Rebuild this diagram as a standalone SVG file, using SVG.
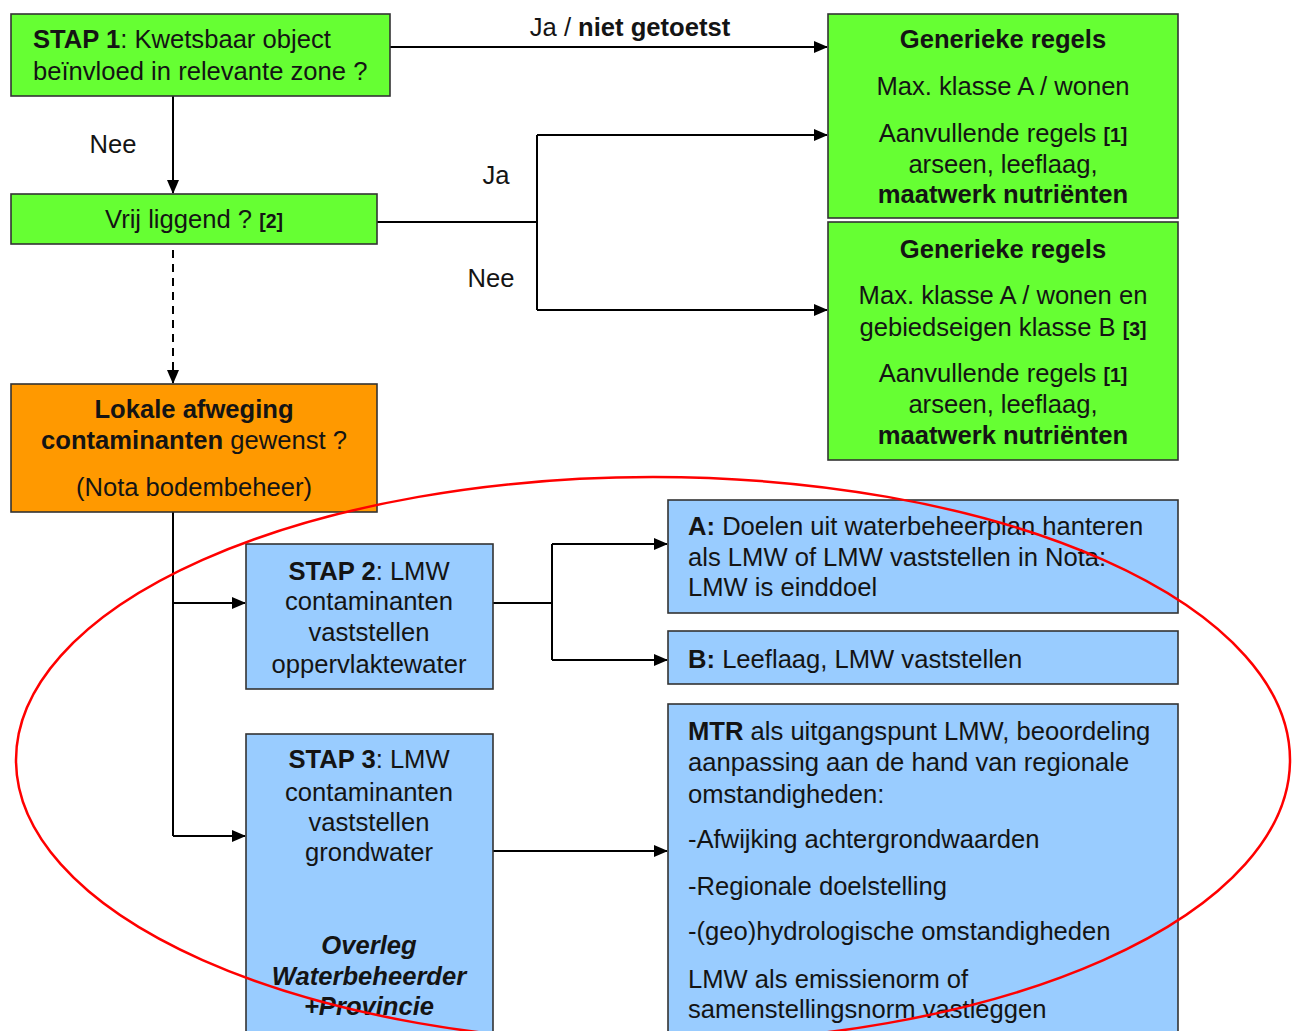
<svg xmlns="http://www.w3.org/2000/svg" width="1296" height="1031" viewBox="0 0 1296 1031">
<defs>
<marker id="ah" markerUnits="userSpaceOnUse" markerWidth="14" markerHeight="12" refX="13" refY="6" orient="auto">
<path d="M0,0 L14,6 L0,12 z" fill="#000"/>
</marker>
<style>
.box{stroke:#333;stroke-width:1.6}
.g{fill:#66ff33}
.o{fill:#ff9900}
.b{fill:#99ccff}
text{font-family:"Liberation Sans",Arial,sans-serif;font-size:25.6px;fill:#141414}
.c{text-anchor:middle}
.bd{font-weight:bold}
.sm{font-size:19.5px;font-weight:bold}
.bi{font-weight:bold;font-style:italic}
.con{stroke:#000;stroke-width:2;fill:none}
.arr{marker-end:url(#ah)}
</style>
</defs>
<rect width="1296" height="1031" fill="#fff"/>

<g id="connectors">
<path class="con arr" d="M390,47 H827"/>
<path class="con arr" d="M173,96 V193"/>
<path class="con" d="M377,222 H537 M537,135 V310"/>
<path class="con arr" d="M537,135 H827"/>
<path class="con arr" d="M537,310 H827"/>
<path class="con arr" d="M173,250 V383" stroke-dasharray="8,6"/>
<path class="con" d="M173,512 V836"/>
<path class="con arr" d="M173,603 H245"/>
<path class="con arr" d="M173,836 H245"/>
<path class="con" d="M493,603 H552 M552,544 V660"/>
<path class="con arr" d="M552,544 H667"/>
<path class="con arr" d="M552,660 H667"/>
<path class="con arr" d="M493,851 H667"/>
<text x="630" y="36" class="c">Ja / <tspan class="bd">niet getoetst</tspan></text>
<text x="113" y="153" class="c">Nee</text>
<text x="496" y="184" class="c">Ja</text>
<text x="491" y="287" class="c">Nee</text>
</g>

<g id="stap1">
<rect class="box g" x="11" y="14" width="379" height="82"/>
<text x="33" y="48"><tspan class="bd">STAP 1</tspan>: Kwetsbaar object</text>
<text x="33" y="80">beïnvloed in relevante zone ?</text>
</g>

<g id="vrij">
<rect class="box g" x="11" y="194" width="366" height="50"/>
<text x="194" y="228" class="c">Vrij liggend ? <tspan class="sm">[2]</tspan></text>
</g>

<g id="generiek1">
<rect class="box g" x="828" y="14" width="350" height="204"/>
<text x="1003" y="48" class="c bd">Generieke regels</text>
<text x="1003" y="95" class="c">Max. klasse A / wonen</text>
<text x="1003" y="142" class="c">Aanvullende regels <tspan class="sm">[1]</tspan></text>
<text x="1003" y="173" class="c">arseen, leeflaag,</text>
<text x="1003" y="203" class="c bd">maatwerk nutriënten</text>
</g>

<g id="generiek2">
<rect class="box g" x="828" y="222" width="350" height="238"/>
<text x="1003" y="258" class="c bd">Generieke regels</text>
<text x="1003" y="304" class="c">Max. klasse A / wonen en</text>
<text x="1003" y="336" class="c">gebiedseigen klasse B <tspan class="sm">[3]</tspan></text>
<text x="1003" y="382" class="c">Aanvullende regels <tspan class="sm">[1]</tspan></text>
<text x="1003" y="413" class="c">arseen, leeflaag,</text>
<text x="1003" y="444" class="c bd">maatwerk nutriënten</text>
</g>

<g id="lokaal">
<rect class="box o" x="11" y="384" width="366" height="128"/>
<text x="194" y="418" class="c bd">Lokale afweging</text>
<text x="194" y="449" class="c"><tspan class="bd">contaminanten</tspan> gewenst ?</text>
<text x="194" y="496" class="c">(Nota bodembeheer)</text>
</g>

<g id="stap2">
<rect class="box b" x="246" y="544" width="247" height="145"/>
<text x="369" y="580" class="c"><tspan class="bd">STAP 2</tspan>: LMW</text>
<text x="369" y="610" class="c">contaminanten</text>
<text x="369" y="641" class="c">vaststellen</text>
<text x="369" y="673" class="c">oppervlaktewater</text>
</g>

<g id="stap3">
<rect class="box b" x="246" y="734" width="247" height="310"/>
<text x="369" y="768" class="c"><tspan class="bd">STAP 3</tspan>: LMW</text>
<text x="369" y="801" class="c">contaminanten</text>
<text x="369" y="831" class="c">vaststellen</text>
<text x="369" y="861" class="c">grondwater</text>
<text x="369" y="954" class="c bi">Overleg</text>
<text x="369" y="985" class="c bi">Waterbeheerder</text>
<text x="369" y="1015" class="c bi">+Provincie</text>
</g>

<g id="optieA">
<rect class="box b" x="668" y="500" width="510" height="113"/>
<text x="688" y="535"><tspan class="bd">A:</tspan> Doelen uit waterbeheerplan hanteren</text>
<text x="688" y="566">als LMW of LMW vaststellen in Nota:</text>
<text x="688" y="596">LMW is einddoel</text>
</g>

<g id="optieB">
<rect class="box b" x="668" y="631" width="510" height="53"/>
<text x="688" y="668"><tspan class="bd">B:</tspan> Leeflaag, LMW vaststellen</text>
</g>

<g id="mtr">
<rect class="box b" x="668" y="704" width="510" height="340"/>
<text x="688" y="740"><tspan class="bd">MTR</tspan> als uitgangspunt LMW, beoordeling</text>
<text x="688" y="771">aanpassing aan de hand van regionale</text>
<text x="688" y="803">omstandigheden:</text>
<text x="688" y="848">-Afwijking achtergrondwaarden</text>
<text x="688" y="895">-Regionale doelstelling</text>
<text x="688" y="940">-(geo)hydrologische omstandigheden</text>
<text x="688" y="988">LMW als emissienorm of</text>
<text x="688" y="1018">samenstellingsnorm vastleggen</text>
</g>

<g id="highlight">
<ellipse cx="653" cy="760" rx="637" ry="283" fill="none" stroke="#ff0000" stroke-width="2.5"/>
</g>
</svg>
